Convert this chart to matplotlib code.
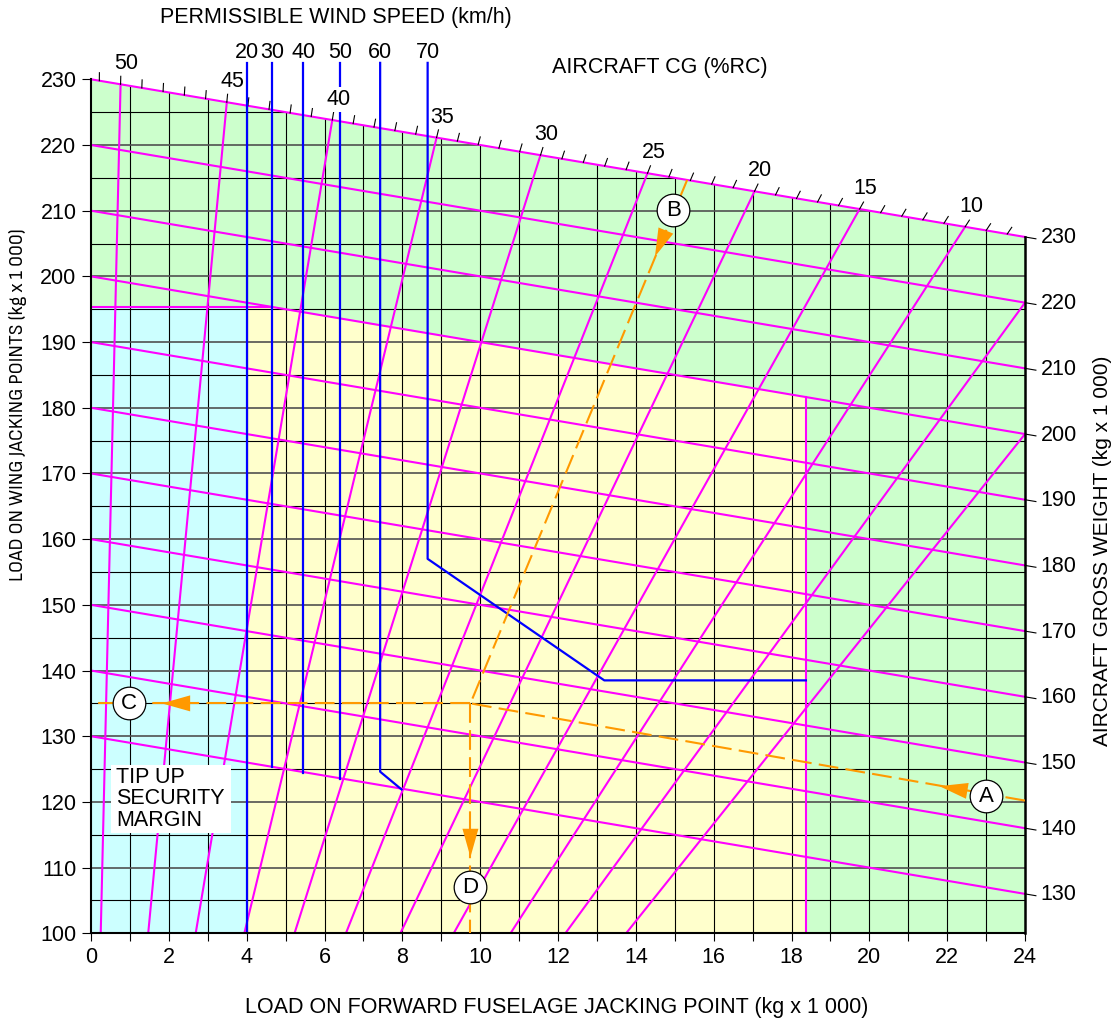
import numpy as np
import matplotlib
matplotlib.use('Agg')
import matplotlib.pyplot as plt
from matplotlib import font_manager as fm
from matplotlib.patches import Polygon, Rectangle

plt.rcParams['font.family'] = ['Liberation Sans', 'DejaVu Sans']
FS = 15.5

# ---------------- data ----------------
# gross weight lines (W + F = GW), labelled on the right edge
gw_values = [130, 140, 150, 160, 170, 180, 190, 200, 210, 220, 230]

# CG lines (%RC): F at W=100 and the point where each line leaves the chart
cg_labels = [50, 45, 40, 35, 30, 25, 20, 15, 10, 5, 0]
cg_f_bottom = [0.25, 1.47, 2.69, 3.94, 5.23, 6.55, 7.95, 9.32, 10.78, 12.19, 13.75]
cg_f_end = [0.76, 3.49, 6.20, 8.88, 11.55, 14.30, 17.05, 19.75, 22.46, 24.0, 24.0]
cg_w_end = [229.24, 226.51, 223.80, 221.12, 218.45, 215.70, 212.95, 210.25, 207.54, 196.0, 176.0]

# permissible wind speed limits (km/h)
wind_speeds = [20, 30, 40, 50, 60, 70]
wind_f = [[4.0, 4.0], [4.65, 4.65], [5.45, 5.45], [6.41, 6.41],
          [7.98, 7.43, 7.43], [18.37, 13.19, 8.65, 8.65]]
wind_w = [[100, 232.5], [125.3, 232.5], [124.4, 232.5], [123.5, 232.5],
          [121.9, 124.6, 232.5], [138.5, 138.5, 157.0, 232.5]]

# zones
cyan_f = [0, 0, 4.0, 4.0]
cyan_w = [100, 195.4, 195.4, 100]
yellow_f = [4.0, 4.0, 4.6, 18.37, 18.37]
yellow_w = [100, 195.4, 195.4, 181.63, 100]

# worked example (orange)
ex_paths = {
    'A': ([24.0, 9.75], [120.2, 135.0]),
    'B': ([15.32, 9.75], [214.7, 135.0]),
    'C': ([9.75, 0.0], [135.0, 135.0]),
    'D': ([9.75, 9.75], [135.0, 100.0]),
}
ex_circles = {'A': (23.0, 120.9), 'B': (14.96, 210.1), 'C': (0.98, 135.0), 'D': (9.75, 107.0)}
ex_arrow_tips = {'A': (21.8, 122.4), 'B': (14.49, 203.0), 'C': (1.82, 135.0), 'D': (9.75, 111.6)}

GREEN = '#CCFFCC'
YELLOW = '#FFFFCC'
CYAN = '#CCFFFF'
MAGENTA = '#FF00FF'
BLUE = '#0000FF'
ORANGE = '#FF9900'

# ---------------- figure ----------------
fig = plt.figure(figsize=(11.2, 10.25), dpi=100)
ax = fig.add_axes([91 / 1120, 1 - 933.3 / 1025, 934 / 1120, 854 / 1025])
ax.set_xlim(0, 24)
ax.set_ylim(100, 230)
sx = 934 / 24.0     # px per unit F
sy = 854 / 130.0    # px per unit W

region = Polygon([(0, 100), (0, 230), (24, 206), (24, 100)], closed=True,
                 fc=GREEN, ec='none', zorder=0)
ax.add_patch(region)
ax.add_patch(Polygon(list(zip(cyan_f, cyan_w)), closed=True, fc=CYAN, ec='none', zorder=0.5))
ax.add_patch(Polygon(list(zip(yellow_f, yellow_w)), closed=True, fc=YELLOW, ec='none', zorder=0.5))

# grid, clipped under the slanted top edge
for f in range(1, 24):
    ln, = ax.plot([f, f], [100, 230], color='black', lw=0.8, zorder=1)
    ln.set_clip_path(region)
for w in range(105, 230, 5):
    major = (w % 10 == 0)
    ln, = ax.plot([0, 24], [w, w], color='#505050' if major else 'black',
                  lw=1.2 if major else 0.8, zorder=1)
    ln.set_clip_path(region)

# zone borders
ax.plot([0, 4.6], [195.4, 195.4], color=MAGENTA, lw=1.5, zorder=2)
ax.plot([18.37, 18.37], [100, 181.63], color=MAGENTA, lw=1.5, zorder=2)

# gross weight lines + right axis
for gw in gw_values:
    ax.plot([0, 24], [gw, gw - 24], color=MAGENTA, lw=1.5, zorder=2, clip_on=False)
    ax.plot([24, 24.28], [gw - 24, gw - 24.28], color='black', lw=0.8, clip_on=False)
    ax.text(24.4, gw - 24.15, str(gw), ha='left', va='center', fontsize=FS)

# CG lines
for fb, fe, we in zip(cg_f_bottom, cg_f_end, cg_w_end):
    ax.plot([fb, fe], [100, we], color=MAGENTA, lw=1.5, zorder=2)

# CG scale ticks on the top edge
cg_top = np.array(cg_labels[:9])[::-1]
ft_top = np.array(cg_f_end[:9])[::-1]
fb_top = np.array(cg_f_bottom[:9])[::-1]


def cg_scale(c, fp):
    xp = cg_top
    if c < xp[0]:
        return fp[0] + (c - xp[0]) * (fp[1] - fp[0]) / (xp[1] - xp[0])
    if c > xp[-1]:
        return fp[-1] + (c - xp[-1]) * (fp[-1] - fp[-2]) / (xp[-1] - xp[-2])
    return np.interp(c, xp, fp)


for c in range(8, 52):
    ft = cg_scale(c, ft_top)
    fb = cg_scale(c, fb_top)
    wt = 230 - ft
    dx, dy = (ft - fb) * sx, (wt - 100) * sy
    n = np.hypot(dx, dy)
    L = 8.0
    ax.plot([ft, ft + dx / n * L / sx], [wt, wt + dy / n * L / sy],
            color='black', lw=0.8, clip_on=False, zorder=2)
    if c % 5 == 0 and c >= 10:
        kw = {}
        if c == 40:
            kw['bbox'] = dict(fc='white', ec='none', pad=1.5)
        ax.text(ft + 0.15, wt + 3.1, str(c), ha='center', va='center',
                fontsize=FS, zorder=4, **kw)

# wind speed lines
for ws, fs, wsl in zip(wind_speeds, wind_f, wind_w):
    ax.plot(fs, wsl, color=BLUE, lw=1.6, zorder=3, clip_on=False)
    ax.text(fs[-1], 234.1, str(ws), ha='center', va='center', fontsize=FS)

# worked example
for key, (fx, wy) in ex_paths.items():
    ax.plot(fx, wy, color=ORANGE, lw=1.5, dashes=(9.5, 3.5), zorder=4)
for key, tip in ex_arrow_tips.items():
    src = (ex_paths[key][0][0], ex_paths[key][1][0])
    vx, vy = (src[0] - tip[0]) * sx, (src[1] - tip[1]) * sy
    n = np.hypot(vx, vy)
    tail = (tip[0] + vx / n * 40 / sx, tip[1] + vy / n * 40 / sy)
    ax.annotate('', xy=tip, xytext=tail,
                arrowprops=dict(arrowstyle='-|>,head_length=0.85,head_width=0.24',
                                color=ORANGE, lw=0, shrinkA=0, shrinkB=0,
                                mutation_scale=24), zorder=5)
for key, (cx, cy) in ex_circles.items():
    ax.plot(cx, cy, 'o', ms=23.5, mfc='white', mec='black', mew=0.9, zorder=6)
    ax.text(cx, cy, key, ha='center', va='center', fontsize=16, zorder=7)

# tip up note
ax.add_patch(Rectangle((0.52, 115.3), 3.07, 10.3, fc='white', ec='none', zorder=6))
ax.text(0.64, 120.45, 'TIP UP\nSECURITY\nMARGIN', ha='left', va='center',
        fontsize=FS, linespacing=1.03, zorder=7)

# axes cosmetics
ax.spines['top'].set_visible(False)
for s in ('left', 'bottom'):
    ax.spines[s].set_linewidth(1.5)
ax.spines['right'].set_linewidth(1.8)
ax.spines['right'].set_bounds(100, 206)
ax.spines['left'].set_bounds(100, 230)
for s in ax.spines.values():
    s.set_zorder(3.5)

ax.set_xticks(range(0, 25))
ax.set_xticklabels([str(i) if i % 2 == 0 else '' for i in range(0, 25)])
ax.set_yticks(range(100, 231, 10))
ax.tick_params(axis='x', length=6, width=0.8, pad=4, labelsize=FS)
ax.tick_params(axis='y', length=6.5, width=0.8, pad=4, labelsize=FS)

fig.text(0.497, 0.0166, 'LOAD ON FORWARD FUSELAGE JACKING POINT (kg x 1 000)',
         ha='center', va='center', fontsize=FS)
fig.text(0.984, 0.4624, 'AIRCRAFT GROSS WEIGHT (kg x 1 000)', rotation=90,
         ha='center', va='center', fontsize=15)
fig.text(0.30, 0.9825, 'PERMISSIBLE WIND SPEED (km/h)', ha='center', va='center', fontsize=FS)
fig.text(0.589, 0.9337, 'AIRCRAFT CG (%RC)', ha='center', va='center', fontsize=FS)

# left label is set in a narrow face in the original; use one if installed
narrow = None
for f in fm.fontManager.ttflist:
    if (f.stretch in ('condensed', 'semi-condensed', 'extra-condensed')
            and f.style == 'normal' and f.weight in (400, 'normal', 'regular')
            and 'Mono' not in f.name and 'Serif' not in f.name):
        if narrow is None or 'Sans' in f.name:
            narrow = f
lprops = fm.FontProperties(fname=narrow.fname) if narrow else fm.FontProperties(family='Liberation Sans')
left_lab = fig.text(0.0161, 0.605, 'LOAD ON WING JACKING POINTS (kg x 1 000)', rotation=90,
                    ha='center', va='center', fontproperties=lprops, fontsize=FS)
fig.canvas.draw()
h = left_lab.get_window_extent().height
left_lab.set_fontsize(min(FS, FS * 353.0 / h))

fig.savefig('out.png', dpi=100)
